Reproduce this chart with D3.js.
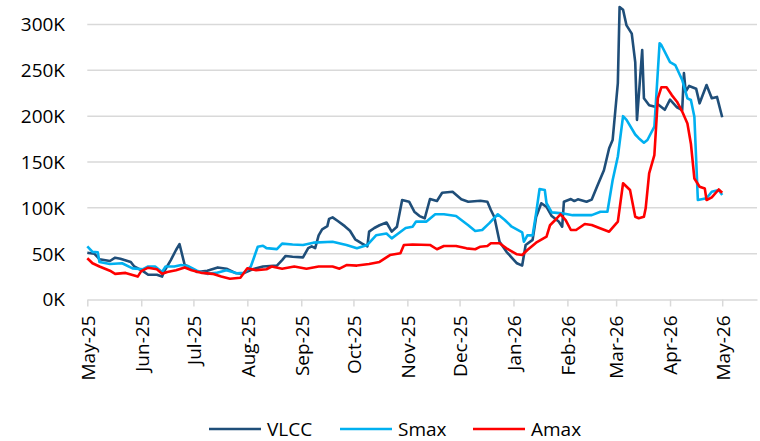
<!DOCTYPE html>
<html>
<head>
<meta charset="utf-8">
<script src="https://cdn.jsdelivr.net/npm/d3@7"></script>
<style>
  body { margin: 0; background: #fff; }
  text { font-family: "Open Sans", sans-serif; fill: #000; }
</style>
</head>
<body>
<div id="chart"></div>
<script>
// values in thousands
var vlcc = [
  ["2025-05-01",51],["2025-05-05",50],["2025-05-08",44],["2025-05-14",42],["2025-05-17",45.6],
  ["2025-05-20",44.5],["2025-05-26",41],["2025-05-28",36],["2025-06-02",31],["2025-06-05",27],
  ["2025-06-10",27],["2025-06-13",25],["2025-06-14",30],["2025-06-18",43],["2025-06-21",54],
  ["2025-06-23",60.5],["2025-06-26",37.6],["2025-06-28",36],["2025-07-03",30],["2025-07-09",31.4],
  ["2025-07-15",35],["2025-07-20",33.6],["2025-07-25",29],["2025-07-29",28],["2025-08-04",33],
  ["2025-08-10",36],["2025-08-18",37],["2025-08-21",43],["2025-08-23",47.5],["2025-08-27",46.7],
  ["2025-09-02",46],["2025-09-05",56],["2025-09-07",58],["2025-09-09",56],["2025-09-11",70],
  ["2025-09-13",76.6],["2025-09-16",80],["2025-09-17",88],["2025-09-19",89.6],["2025-09-22",85.6],
  ["2025-09-26",80],["2025-09-29",75],["2025-10-02",65.7],["2025-10-06",61],["2025-10-09",58],
  ["2025-10-10",74],["2025-10-13",78],["2025-10-16",81],["2025-10-20",84],["2025-10-23",74],
  ["2025-10-26",79.4],["2025-10-29",108.5],["2025-11-02",106.7],["2025-11-05",95.8],["2025-11-08",91],
  ["2025-11-11",88.6],["2025-11-14",109.6],["2025-11-18",107.4],["2025-11-21",116.5],["2025-11-27",117.6],
  ["2025-12-02",109.3],["2025-12-06",106.7],["2025-12-13",107.8],["2025-12-17",106.7],["2025-12-19",97.6],
  ["2025-12-21",90],["2025-12-24",63],["2025-12-28",52],["2026-01-03",39.5],["2026-01-06",37],
  ["2026-01-08",59.5],["2026-01-12",65],["2026-01-14",90],["2026-01-17",105],["2026-01-20",101],
  ["2026-01-23",91],["2026-01-27",85],["2026-01-29",79.4],["2026-01-30",106.7],["2026-02-03",109.6],
  ["2026-02-05",107.4],["2026-02-07",109.3],["2026-02-12",106.7],["2026-02-15",109],["2026-02-18",123],
  ["2026-02-22",141],["2026-02-25",165],["2026-02-27",174],["2026-03-02",236],["2026-03-03",319],
  ["2026-03-05",316],["2026-03-07",299],["2026-03-10",290],["2026-03-12",259],["2026-03-13",196],
  ["2026-03-16",272],["2026-03-17",219.5],["2026-03-20",212],["2026-03-24",210],["2026-03-25",213],
  ["2026-03-29",207],["2026-04-01",218],["2026-04-05",209.7],["2026-04-08",206.7],["2026-04-09",247],
  ["2026-04-10",226.7],["2026-04-12",233],["2026-04-16",230],["2026-04-18",214],["2026-04-22",234],
  ["2026-04-25",219.5],["2026-04-28",221],["2026-05-01",198.8]
];

var smax = [
  ["2025-05-01",58],["2025-05-04",52],["2025-05-07",51.5],["2025-05-08",41],["2025-05-14",38.7],
  ["2025-05-21",39.5],["2025-05-27",34],["2025-06-02",33],["2025-06-05",36],["2025-06-09",36],
  ["2025-06-13",30],["2025-06-15",36],["2025-06-20",36],["2025-06-24",37.6],["2025-06-28",36.5],
  ["2025-07-03",31.4],["2025-07-09",28],["2025-07-14",29],["2025-07-20",32],["2025-07-26",28.6],
  ["2025-07-30",29],["2025-08-03",36],["2025-08-05",46.7],["2025-08-07",57.6],["2025-08-10",58.7],
  ["2025-08-12",56],["2025-08-18",55],["2025-08-21",61],["2025-08-27",60],["2025-09-02",59.5],
  ["2025-09-08",62],["2025-09-19",63],["2025-09-27",59.5],["2025-10-03",56],["2025-10-09",59.5],
  ["2025-10-14",70],["2025-10-20",72],["2025-10-23",66.7],["2025-10-26",71],["2025-10-31",78],
  ["2025-11-04",79.4],["2025-11-06",85],["2025-11-12",85],["2025-11-17",93],["2025-11-22",93],
  ["2025-11-29",91],["2025-12-06",81],["2025-12-10",74.7],["2025-12-14",75.8],["2025-12-18",83],
  ["2025-12-23",93],["2025-12-27",86.7],["2025-12-31",79.4],["2026-01-06",73.3],["2026-01-07",63],
  ["2026-01-09",70],["2026-01-12",70],["2026-01-14",94],["2026-01-16",120.5],["2026-01-19",119.5],
  ["2026-01-20",105],["2026-01-23",95],["2026-01-29",94],["2026-02-04",92],["2026-02-15",92],
  ["2026-02-20",95.8],["2026-02-24",95.8],["2026-02-27",130],["2026-03-02",156],["2026-03-05",200],
  ["2026-03-07",196],["2026-03-12",180],["2026-03-14",176],["2026-03-17",171],["2026-03-19",174],
  ["2026-03-23",188.5],["2026-03-26",279.5],["2026-03-27",277.6],["2026-04-01",259],["2026-04-04",255.8],
  ["2026-04-08",239.5],["2026-04-11",219.5],["2026-04-13",217.6],["2026-04-15",199.4],["2026-04-17",108.5],
  ["2026-04-22",110.4],["2026-04-25",117.6],["2026-04-29",119.5],["2026-05-01",114]
];

var amax = [
  ["2025-05-01",45],["2025-05-04",39.5],["2025-05-08",36],["2025-05-14",31.4],["2025-05-17",28],
  ["2025-05-23",29],["2025-05-27",26.7],["2025-05-30",25],["2025-06-01",31],["2025-06-05",34.7],
  ["2025-06-10",33],["2025-06-13",28],["2025-06-16",30],["2025-06-21",32],["2025-06-26",35],
  ["2025-06-30",32],["2025-07-06",29],["2025-07-12",28],["2025-07-17",25],["2025-07-22",22.7],
  ["2025-07-28",23.8],["2025-08-01",34],["2025-08-06",32],["2025-08-12",33],["2025-08-15",36],
  ["2025-08-21",33.6],["2025-08-28",36],["2025-09-04",33.6],["2025-09-11",36],["2025-09-19",36],
  ["2025-09-23",33.6],["2025-09-27",37.6],["2025-10-03",37],["2025-10-10",38.7],["2025-10-16",41],
  ["2025-10-22",48.5],["2025-10-28",50.4],["2025-10-30",59.5],["2025-11-04",60],["2025-11-14",59.5],
  ["2025-11-18",54.8],["2025-11-22",58.4],["2025-11-29",58.4],["2025-12-05",55.8],["2025-12-10",54.8],
  ["2025-12-13",57.6],["2025-12-17",58.4],["2025-12-19",61.3],["2025-12-24",61.3],["2025-12-28",55.8],
  ["2026-01-03",49.3],["2026-01-06",48.5],["2026-01-09",54],["2026-01-14",62],["2026-01-20",68.5],
  ["2026-01-22",81],["2026-01-25",86.7],["2026-01-28",93],["2026-01-31",86.7],["2026-02-03",75.8],
  ["2026-02-06",75.8],["2026-02-11",82.4],["2026-02-15",81.3],["2026-02-19",78.3],["2026-02-25",74],
  ["2026-03-02",85],["2026-03-05",126.8],["2026-03-09",119.5],["2026-03-12",90.3],["2026-03-14",88.6],
  ["2026-03-17",90.3],["2026-03-18",99.5],["2026-03-20",137.7],["2026-03-23",157.6],["2026-03-25",219.5],
  ["2026-03-27",231.5],["2026-03-30",231.5],["2026-04-02",223],["2026-04-05",215.8],["2026-04-08",205],
  ["2026-04-11",192],["2026-04-13",170],["2026-04-15",132],["2026-04-18",123],["2026-04-21",121],
  ["2026-04-22",108.5],["2026-04-25",111.5],["2026-04-29",120],["2026-05-01",116.5]
];

var seriesNames = ["VLCC", "Smax", "Amax"];
var seriesColors = ["#1f4e79", "#00b0f0", "#ff0000"];
var yTicks = [0, 50, 100, 150, 200, 250, 300];

var width = 760, height = 441;
var parse = d3.timeParse("%Y-%m-%d");

var x = d3.scaleTime()
    .domain([parse("2025-05-01"), parse("2026-05-21")])
    .range([87.3, 757]);

var y = d3.scaleLinear()
    .domain([0, 300])
    .range([299.5, 24.5]);

var svg = d3.select("#chart").append("svg")
    .attr("width", width)
    .attr("height", height);

// gridlines
svg.append("g")
    .selectAll("line")
    .data(yTicks.slice(1))
  .enter().append("line")
    .attr("x1", x.range()[0])
    .attr("x2", x.range()[1])
    .attr("y1", function(d) { return y(d); })
    .attr("y2", function(d) { return y(d); })
    .attr("stroke", "#d9d9d9")
    .attr("stroke-width", 1.5);

// y labels
svg.append("g")
    .selectAll("text")
    .data(yTicks)
  .enter().append("text")
    .attr("x", 65)
    .attr("y", function(d) { return y(d); })
    .attr("dy", "0.36em")
    .attr("text-anchor", "end")
    .style("font-size", "19px")
    .text(function(d) { return d + "K"; });

// x axis
var xAxis = svg.append("g")
    .attr("transform", "translate(0," + y(0) + ")")
    .call(d3.axisBottom(x)
      .ticks(d3.timeMonth.every(1))
      .tickFormat(d3.timeFormat("%b-%y"))
      .tickSize(7)
      .tickSizeOuter(0));

xAxis.select(".domain").attr("stroke", "#d9d9d9").attr("stroke-width", 1.5);
xAxis.selectAll(".tick line").attr("stroke", "#d9d9d9").attr("stroke-width", 1.5);
xAxis.selectAll(".tick text")
    .attr("transform", "rotate(-90)")
    .attr("x", -16)
    .attr("y", 0)
    .attr("dy", "0.36em")
    .attr("text-anchor", "end")
    .style("font-size", "19px")
    .style("font-family", "'Open Sans', sans-serif")
    .attr("fill", "#000");

// lines
var line = d3.line()
    .x(function(d) { return x(parse(d[0])); })
    .y(function(d) { return y(d[1]); });

var allSeries = [vlcc, smax, amax];

// draw red first so the blues sit on top as in the source? source shows red on top of light blue
var order = [0, 1, 2];
order.forEach(function(i) {
  svg.append("path")
      .datum(allSeries[i])
      .attr("fill", "none")
      .attr("stroke", seriesColors[i])
      .attr("stroke-width", 2.6)
      .attr("stroke-linejoin", "round")
      .attr("d", line);
});

// legend
var legendX = [209, 340, 473];
var legend = svg.append("g");
seriesNames.forEach(function(name, i) {
  legend.append("line")
      .attr("x1", legendX[i])
      .attr("x2", legendX[i] + 52)
      .attr("y1", 429)
      .attr("y2", 429)
      .attr("stroke", seriesColors[i])
      .attr("stroke-width", 2.6);
  legend.append("text")
      .attr("x", legendX[i] + 58)
      .attr("y", 429)
      .attr("dy", "0.36em")
      .style("font-size", "19px")
      .text(name);
});
</script>
</body>
</html>
